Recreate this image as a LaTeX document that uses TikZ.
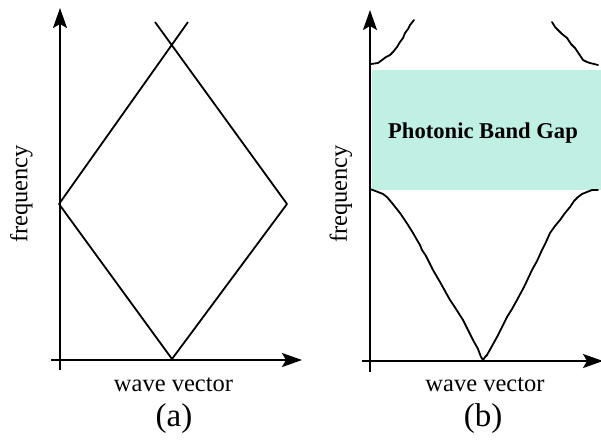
\documentclass[tikz,border=0pt]{standalone}
\usepackage{fontspec}
\setmainfont{Liberation Serif}
\usetikzlibrary{arrows.meta}
\definecolor{gapgreen}{RGB}{191,240,227}
\tikzset{
  axis/.style={line width=2pt,-{Stealth[length=20pt,width=14pt,inset=4pt]}},
  band/.style={line width=1.8pt,line join=round,line cap=round},
  lbl/.style={inner sep=0pt,font=\fontsize{24.5}{28}\selectfont},
  tag/.style={inner sep=0pt,anchor=base,font=\fontsize{33}{38}\selectfont},
}
\begin{document}
\begin{tikzpicture}[x=1pt,y=-1pt]
\useasboundingbox (0,0) rectangle (601,440);
% ---------- panel (a) ----------
\draw[axis] (60,370) -- (60,8);
\draw[axis] (51,360) -- (302,360);
\draw[band,line cap=butt] (155,22) -- (287,204) -- (172,359) -- (59,204) -- (188,22);
\node[lbl,anchor=base] (wva) at (173.5,391) {wave vector};
\node[tag] (ta) at (174,426) {(a)};
\node[lbl,rotate=90] (fa) at (21.5,194) {frequency};
% ---------- panel (b) ----------
\fill[gapgreen] (372,70) rectangle (601,190);
\draw[axis] (370,372) -- (370,10);
\draw[axis] (362,361) -- (603,361);
\draw[band] (370,189) -- (378,192) -- (383,194) -- (387,197) -- (392,203) -- (396,208) -- (400,213)
  -- (404,219) -- (408,225) -- (413,233) -- (417,240) -- (420,245) -- (422,250) -- (426,256)
  -- (428,260) -- (433,270) -- (440,282) -- (450,300) -- (456,309) -- (463,320) -- (468,330)
  -- (473,340) -- (478,349) -- (481,357) -- (483,360) -- (485,357) -- (487,355) -- (492,346)
  -- (497,337) -- (502,327) -- (507,317) -- (512,309) -- (517,300) -- (524,287) -- (532,270)
  -- (537,261) -- (542,250) -- (546,242) -- (550,233) -- (555,226) -- (560,220) -- (565,213)
  -- (570,207) -- (574,201) -- (578,197) -- (582,194) -- (587,192) -- (592,190) -- (598,190);
\draw[band] (371,64) -- (378,63) -- (382,60) -- (386,57) -- (390,55) -- (393,52) -- (397,47)
  -- (400,42) -- (403,38) -- (405,33) -- (408,29) -- (410,25) -- (414,20);
\draw[band] (552,22) -- (555,27) -- (558,30) -- (562,34) -- (567,38) -- (571,44) -- (575,48)
  -- (579,54) -- (583,60) -- (587,62) -- (590,63) -- (594,64) -- (598,65);
\node[inner sep=0pt,anchor=base,font=\bfseries\fontsize{22.6}{26}\selectfont] (pbg) at (483,138) {Photonic Band Gap};
\node[lbl,anchor=base] (wvb) at (485,391) {wave vector};
\node[tag] (tb) at (483,426) {(b)};
\node[lbl,rotate=90] (fb) at (341,194) {frequency};
\end{tikzpicture}
\end{document}
